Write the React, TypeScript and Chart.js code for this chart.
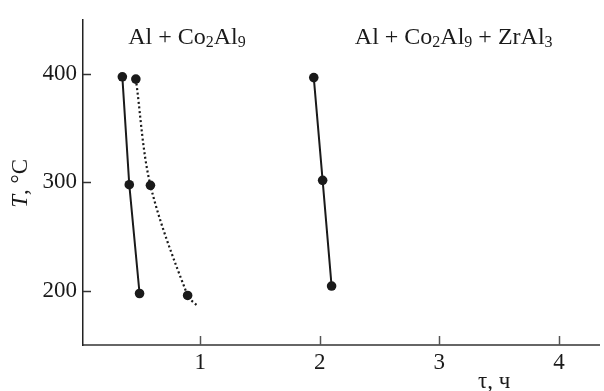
import { useEffect, useRef } from "react";
import { Chart, registerables } from "chart.js";
Chart.register(...registerables);

const timeSolidA = [0.349, 0.407, 0.493];
const tempSolidA = [397.4, 297.9, 197.5];
const timeDotted = [0.462, 0.584, 0.895, 0.978];
const tempDotted = [395.3, 297.3, 195.7, 186];
const dottedMarkers = [4.8, 4.8, 4.8, 0];
const timeSolidB = [1.95, 2.024, 2.099];
const tempSolidB = [396.7, 301.9, 204.4];
const xTickValues = [1, 2, 3, 4];
const yTickValues = [200, 300, 400];
const phaseLabels = [
  { x: 0.889, parts: [["Al + Co", false], ["2", true], ["Al", false], ["9", true]] },
  { x: 3.12, parts: [["Al + Co", false], ["2", true], ["Al", false], ["9", true], [" + ZrAl", false], ["3", true]] },
];

const FONT = "'Liberation Serif', 'Times New Roman', serif";
const INK = "#1a1a1a";

function toPts(xs: number[], ys: number[]) {
  return xs.map((x, i) => ({ x, y: ys[i] }));
}

const overlay = {
  id: "overlay",
  afterDraw(chart: any) {
    const ctx = chart.ctx as CanvasRenderingContext2D;
    const xs = chart.scales.x;
    const ys = chart.scales.y;
    const area = chart.chartArea;
    ctx.save();
    // inward tick marks
    ctx.strokeStyle = "#555";
    ctx.lineWidth = 1.5;
    xTickValues.forEach((v) => {
      const px = Math.round(xs.getPixelForValue(v)) + 0.5;
      ctx.beginPath();
      ctx.moveTo(px, area.bottom);
      ctx.lineTo(px, area.bottom - 9);
      ctx.stroke();
    });
    ctx.strokeStyle = "#333";
    yTickValues.forEach((v) => {
      const py = Math.round(ys.getPixelForValue(v)) + 0.5;
      ctx.beginPath();
      ctx.moveTo(area.left, py);
      ctx.lineTo(area.left + 8, py);
      ctx.stroke();
    });

    ctx.fillStyle = INK;
    ctx.textBaseline = "alphabetic";
    // phase labels
    const big = `24px ${FONT}`;
    const small = `16px ${FONT}`;
    phaseLabels.forEach((lab) => {
      let w = 0;
      lab.parts.forEach(([t, sub]) => {
        ctx.font = sub ? small : big;
        w += ctx.measureText(t as string).width;
      });
      let cx = xs.getPixelForValue(lab.x) - w / 2;
      const base = area.top + 24.5;
      ctx.textAlign = "left";
      lab.parts.forEach(([t, sub]) => {
        ctx.font = sub ? small : big;
        ctx.fillText(t as string, cx, sub ? base + 3 : base);
        cx += ctx.measureText(t as string).width;
      });
    });

    // y axis title
    const title = `23px ${FONT}`;
    ctx.save();
    ctx.translate(27, (area.top + area.bottom) / 2 + 1);
    ctx.rotate(-Math.PI / 2);
    ctx.font = `italic 23px ${FONT}`;
    const wT = ctx.measureText("T").width;
    ctx.font = title;
    const wRest = ctx.measureText(", °C").width;
    const sx = -(wT + wRest) / 2;
    ctx.textAlign = "left";
    ctx.font = `italic 23px ${FONT}`;
    ctx.fillText("T", sx, 0);
    ctx.font = title;
    ctx.fillText(", °C", sx + wT, 0);
    ctx.restore();

    // x axis title
    ctx.font = title;
    ctx.textAlign = "center";
    ctx.fillText("τ, ч", area.right - 105, 387.5);
    ctx.restore();
  },
};

export default function App() {
  const ref = useRef<HTMLCanvasElement>(null);
  useEffect(() => {
    document.body.style.margin = "0";
    const c = new Chart(ref.current!, {
      type: "scatter",
      data: {
        datasets: [
          {
            data: toPts(timeSolidA, tempSolidA),
            showLine: true,
            borderColor: INK,
            backgroundColor: INK,
            borderWidth: 2,
            pointRadius: 4.8,
            pointBorderWidth: 0,
          },
          {
            data: toPts(timeDotted, tempDotted),
            showLine: true,
            borderColor: INK,
            backgroundColor: INK,
            borderWidth: 2.2,
            borderDash: [2, 2.6],
            tension: 0.32,
            pointRadius: dottedMarkers,
            pointBorderWidth: 0,
          },
          {
            data: toPts(timeSolidB, tempSolidB),
            showLine: true,
            borderColor: INK,
            backgroundColor: INK,
            borderWidth: 2,
            pointRadius: 4.8,
            pointBorderWidth: 0,
          },
        ],
      },
      options: {
        animation: false,
        responsive: false,
        layout: { padding: { top: 14, right: 0, left: 0, bottom: 0 } },
        plugins: { legend: { display: false }, tooltip: { enabled: false } },
        scales: {
          x: {
            type: "linear",
            min: 0.02,
            max: 4.337,
            afterBuildTicks: (s: any) => {
              s.ticks = xTickValues.map((v) => ({ value: v }));
            },
            afterFit: (s: any) => {
              s.height = 46;
            },
            grid: { display: false, drawTicks: false },
            border: { display: true, color: "#666", width: 2 },
            ticks: {
              padding: 4,
              color: INK,
              font: { family: FONT, size: 23 },
              callback: (v: any) => String(v),
            },
          },
          y: {
            type: "linear",
            min: 150,
            max: 450,
            afterBuildTicks: (s: any) => {
              s.ticks = yTickValues.map((v) => ({ value: v }));
            },
            afterFit: (s: any) => {
              s.width = 83;
            },
            grid: { display: false, drawTicks: false },
            border: { display: true, color: "#222", width: 1.5 },
            ticks: {
              padding: 6,
              color: INK,
              font: { family: FONT, size: 23 },
              callback: (v: any) => String(v),
            },
          },
        },
      },
      plugins: [overlay],
    });
    return () => c.destroy();
  }, []);
  return (
    <div style={{ width: 604, height: 391 }}>
      <canvas ref={ref} width={604} height={391} style={{ display: "block" }} />
    </div>
  );
}
